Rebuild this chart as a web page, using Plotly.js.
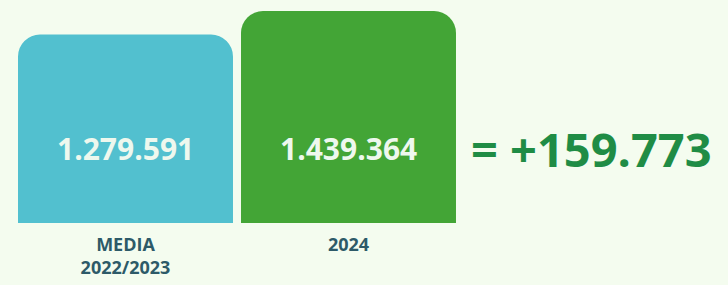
<!DOCTYPE html>
<html>
<head>
<meta charset="utf-8">
<script src="https://cdn.plot.ly/plotly-3.0.1.min.js"></script>
<style>html,body{margin:0;padding:0;background:#f4fcef;}</style>
</head>
<body>
<div id="chart" style="width:728px;height:285px;"></div>
<script>
var categories = ["MEDIA<br>2022/2023", "2024"];
var values = [1279591, 1439364];
var valueLabels = ["1.279.591", "1.439.364"];
var diffLabel = "= +159.773";
var barColors = ["#52c0cf", "#43a536"];

var annotations = categories.map(function (c, i) {
  return {
    x: i, y: 0.35, xref: "x", yref: "paper",
    text: valueLabels[i], showarrow: false,
    font: {family: "Open Sans", size: 30, color: "#eef8ee", weight: 700},
    xanchor: "center", yanchor: "middle"
  };
});
annotations.push({
  x: 1.02, y: 0.35, xref: "paper", yref: "paper",
  text: diffLabel, showarrow: false,
  font: {family: "Open Sans", size: 47, color: "#1f8c45", weight: 700},
  xanchor: "left", yanchor: "middle"
});

var trace = {
  type: "bar",
  x: categories,
  y: values,
  marker: {color: barColors, cornerradius: 22},
  hoverinfo: "none"
};

var layout = {
  width: 728, height: 285,
  margin: {l: 14, r: 268, t: 11, b: 62},
  paper_bgcolor: "#f4fcef",
  plot_bgcolor: "#f4fcef",
  bargap: 0.036,
  showlegend: false,
  xaxis: {
    type: "category", range: [-0.5, 1.5],
    showgrid: false, zeroline: false, showline: false, ticks: "",
    ticklabelstandoff: 9,
    tickfont: {family: "Open Sans", size: 18, color: "#2d5a68", weight: 700}
  },
  yaxis: {range: [0, 1439364], visible: false, showgrid: false, zeroline: false},
  annotations: annotations
};

Plotly.newPlot("chart", [trace], layout, {displayModeBar: false, staticPlot: true});
</script>
</body>
</html>
